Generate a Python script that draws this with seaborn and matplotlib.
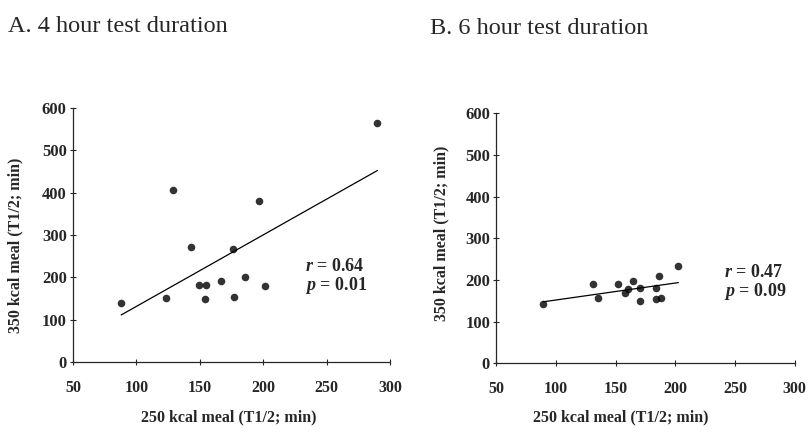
import seaborn as sns
import matplotlib.pyplot as plt

# A. 4 hour test duration
a_250 = [88, 123, 128.5, 143, 149.5, 154.5, 154, 167, 176, 177, 185.5, 197, 201, 290]
a_350 = [140, 152, 406, 271, 182, 182, 149, 192, 267, 154, 200, 380, 180, 564]
# B. 6 hour test duration
b_250 = [89.5, 131, 135, 152, 158, 160, 164.5, 170, 170.5, 184, 184, 186, 188, 202.5]
b_350 = [142, 191, 156, 190, 168, 179, 197, 182, 150, 180, 154, 209, 157, 233]

titles = ['A. 4 hour test duration', 'B. 6 hour test duration']
stats = ['$r$ = 0.64\n$p$ = 0.01', '$r$ = 0.47\n$p$ = 0.09']
xticks = [50, 100, 150, 200, 250, 300]
yticks = [0, 100, 200, 300, 400, 500, 600]

sns.set_style('ticks')
plt.rcParams['font.family'] = ['Liberation Serif', 'DejaVu Serif']
plt.rcParams['mathtext.fontset'] = 'custom'
plt.rcParams['mathtext.it'] = 'Liberation Serif:italic:bold'
plt.rcParams['mathtext.rm'] = 'Liberation Serif:bold'

fig = plt.figure(figsize=(8.11, 4.46), dpi=100)
ax1 = fig.add_axes([0.090, 0.188, 0.391, 0.570])
ax2 = fig.add_axes([0.612, 0.185, 0.368, 0.561])

panels = [(ax1, a_250, a_350), (ax2, b_250, b_350)]
label_x = [(0.49, -0.185), (0.418, -0.185)]
label_y = [(-0.155, 0.46), (-0.157, 0.52)]
title_pos = [(8 / 811, 1 - 27 / 446), (430 / 811, 1 - 29 / 446)]
stat_pos = [(233, 202), (241, 194)]

for i, (ax, x, y) in enumerate(panels):
    sns.regplot(x=x, y=y, ax=ax, ci=None, truncate=True, color='black',
                scatter_kws={'s': 30, 'linewidths': 0},
                line_kws={'linewidth': 0.9})
    ax.set_xlim(50, 300)
    ax.set_ylim(0, 600)
    ax.set_xticks(xticks)
    ax.set_yticks(yticks)
    ax.tick_params(axis='x', direction='inout', length=5, width=0.8, pad=10, labelsize=11.5)
    ax.tick_params(axis='y', direction='inout', length=5, width=0.8, pad=2, labelsize=12)
    for lab in ax.get_xticklabels() + ax.get_yticklabels():
        lab.set_fontweight('bold')
    ax.set_xlabel('250 kcal meal (T1/2; min)', fontsize=11.5, fontweight='bold')
    ax.set_ylabel('350 kcal meal (T1/2; min)', fontsize=11.5, fontweight='bold')
    ax.xaxis.set_label_coords(*label_x[i])
    ax.yaxis.set_label_coords(*label_y[i])
    for s in ['left', 'bottom']:
        ax.spines[s].set_linewidth(0.9)
    sns.despine(ax=ax)
    ax.text(stat_pos[i][0], stat_pos[i][1], stats[i], fontsize=13, va='center',
            ha='left', fontweight='bold', linespacing=1.0)
    fig.text(title_pos[i][0], title_pos[i][1], titles[i], fontsize=17.5, va='center', ha='left')

plt.savefig('out.png', dpi=100)
